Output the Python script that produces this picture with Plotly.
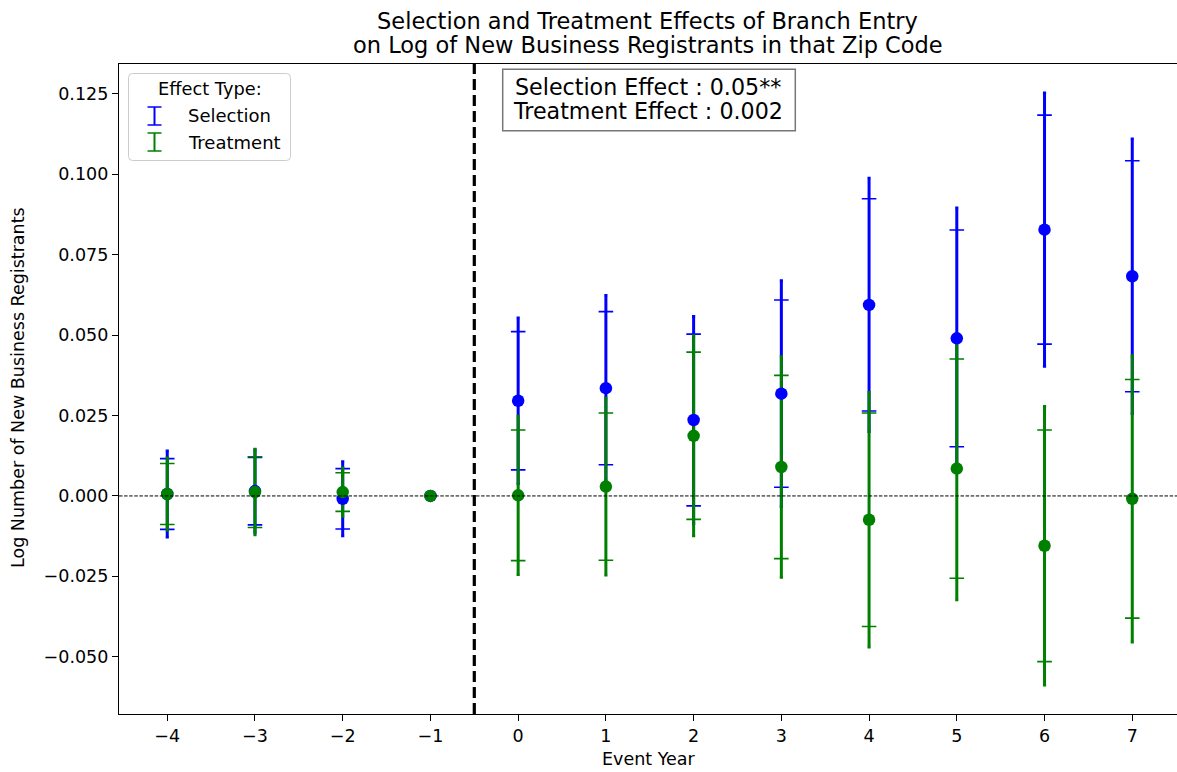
import numpy as np
import plotly.graph_objects as go

# ---------------- data ----------------
years = [-4, -3, -2, -1, 0, 1, 2, 3, 4, 5, 6, 7]

sel_coef = [0.0006, 0.0015, -0.0009, 0.0, 0.0296, 0.0335, 0.0236, 0.0318, 0.0594, 0.0490, 0.0828, 0.0683]
sel_ci95 = [0.0134, 0.0128, 0.0115, 0.0, 0.0257, 0.0288, 0.0322, 0.0351, 0.0394, 0.0405, 0.0425, 0.0427]
sel_ci90 = [0.0110, 0.0105, 0.0094, 0.0, 0.0215, 0.0238, 0.0267, 0.0291, 0.0330, 0.0337, 0.0356, 0.0359]

trt_coef = [0.0006, 0.0012, 0.0012, 0.0, 0.0002, 0.0029, 0.0187, 0.0090, -0.0074, 0.0085, -0.0155, -0.0009]
trt_ci95 = [0.0112, 0.0133, 0.0075, 0.0, 0.0246, 0.0275, 0.0311, 0.0343, 0.0396, 0.0408, 0.0433, 0.0445]
trt_ci90 = [0.0095, 0.0110, 0.0060, 0.0, 0.0203, 0.0229, 0.0260, 0.0285, 0.0332, 0.0341, 0.0360, 0.0371]

series_names = ["Selection", "Treatment"]
series_colors = ["#0000ff", "#008000"]

title_lines = ["Selection and Treatment Effects of Branch Entry",
               "on Log of New Business Registrants in that Zip Code"]
box_lines = ["Selection Effect : 0.05**", "Treatment Effect : 0.002"]
x_title = "Event Year"
y_title = "Log Number of New Business Registrants"
legend_title = "Effect Type:"
cutoff_x = -0.5

# ---------------- geometry helpers ----------------
W, H = 1177, 772
L, R, T, B = 119, 0, 64, 58
PW, PH = W - L - R, H - T - B


def px(x):
    return (x - L) / PW


def py(y):
    return (H - B - y) / PH


FONT = "DejaVu Sans"
fig = go.Figure()

series = [(sel_coef, sel_ci95, sel_ci90), (trt_coef, trt_ci95, trt_ci90)]
x_arr = np.array(years, dtype=float)

# error bars first (all), markers afterwards (drawn on top, like matplotlib)
for (coef, c95, c90), color in zip(series, series_colors):
    coef = np.array(coef)
    for ci, thick, capw in [(np.array(c95), 3.0, 1.6), (np.array(c90), 1.6, 7.3)]:
        m = ci > 0
        fig.add_trace(go.Scatter(
            x=x_arr[m], y=coef[m], mode="markers",
            marker=dict(size=1, color="rgba(0,0,0,0)"),
            error_y=dict(type="data", array=ci[m], symmetric=True,
                         color=color, thickness=thick, width=capw),
            showlegend=False, hoverinfo="skip"))

for (coef, c95, c90), color, name in zip(series, series_colors, series_names):
    fig.add_trace(go.Scatter(
        x=years, y=coef, mode="markers", name=name,
        marker=dict(size=12.5, color=color, line=dict(width=0)),
        showlegend=False))

shapes = []
# zero reference line
shapes.append(dict(type="line", xref="paper", yref="y", x0=0, x1=1, y0=0, y1=0,
                   line=dict(color="black", width=1.0, dash="3.5px,1.6px"), layer="above"))
# vertical cutoff line
shapes.append(dict(type="line", xref="x", yref="paper", x0=cutoff_x, x1=cutoff_x, y0=0, y1=1,
                   line=dict(color="black", width=3.2, dash="11px,5px"), layer="above"))

# legend box (rounded)
lx0, lx1, ly0, ly1, r = 128.5, 290.5, 73.5, 160.5, 4
path = (f"M {px(lx0 + r)},{py(ly0)} L {px(lx1 - r)},{py(ly0)} "
        f"Q {px(lx1)},{py(ly0)} {px(lx1)},{py(ly0 + r)} L {px(lx1)},{py(ly1 - r)} "
        f"Q {px(lx1)},{py(ly1)} {px(lx1 - r)},{py(ly1)} L {px(lx0 + r)},{py(ly1)} "
        f"Q {px(lx0)},{py(ly1)} {px(lx0)},{py(ly1 - r)} L {px(lx0)},{py(ly0 + r)} "
        f"Q {px(lx0)},{py(ly0)} {px(lx0 + r)},{py(ly0)} Z")
shapes.append(dict(type="path", xref="paper", yref="paper", path=path,
                   line=dict(color="#cccccc", width=1), fillcolor="rgba(255,255,255,0.8)",
                   layer="above"))
# legend icons (error-bar glyphs)
icon_x = 154.5
for (ytop, ybot), color in zip([(107, 125), (133, 151)], series_colors):
    shapes.append(dict(type="line", xref="paper", yref="paper",
                       x0=px(icon_x), x1=px(icon_x), y0=py(ytop), y1=py(ybot),
                       line=dict(color=color, width=2), layer="above"))
    for yy in (ytop, ybot):
        shapes.append(dict(type="line", xref="paper", yref="paper",
                           x0=px(icon_x - 7), x1=px(icon_x + 7), y0=py(yy), y1=py(yy),
                           line=dict(color=color, width=1.5), layer="above"))

# stats box
shapes.append(dict(type="rect", xref="paper", yref="paper",
                   x0=px(502.7), x1=px(795.3), y0=py(130.7), y1=py(69.3),
                   line=dict(color="#777777", width=1.5), fillcolor="white", layer="above"))

annotations = []
# title lines
for txt, yc in zip(title_lines, [21, 45]):
    annotations.append(dict(text=txt, xref="paper", yref="paper", x=px(647.5), y=py(yc),
                            xanchor="center", yanchor="middle", showarrow=False,
                            font=dict(family=FONT, size=22.5, color="black")))
# stats box text
for txt, yc in zip(box_lines, [86.5, 110.5]):
    annotations.append(dict(text=txt, xref="paper", yref="paper", x=px(648), y=py(yc),
                            xanchor="center", yanchor="middle", showarrow=False,
                            font=dict(family=FONT, size=22.2, color="black")))
# legend texts
annotations.append(dict(text=legend_title, xref="paper", yref="paper", x=px(209.5), y=py(89),
                        xanchor="center", yanchor="middle", showarrow=False,
                        font=dict(family=FONT, size=17.8, color="black")))
for txt, yc in zip(series_names, [116, 142]):
    annotations.append(dict(text=txt, xref="paper", yref="paper", x=px(186), y=py(yc),
                            xanchor="left", yanchor="middle", showarrow=False,
                            font=dict(family=FONT, size=18, color="black")))
# axis titles
annotations.append(dict(text=x_title, xref="paper", yref="paper", x=px(648.5), y=py(759),
                        xanchor="center", yanchor="middle", showarrow=False,
                        font=dict(family=FONT, size=17.5, color="black")))
annotations.append(dict(text=y_title, xref="paper", yref="paper", x=px(18), y=py(388),
                        xanchor="center", yanchor="middle", showarrow=False, textangle=-90,
                        font=dict(family=FONT, size=17.5, color="black")))

fig.update_layout(
    width=W, height=H,
    margin=dict(l=L, r=R, t=T, b=B, pad=0),
    paper_bgcolor="white", plot_bgcolor="white",
    font=dict(family=FONT, size=17.5, color="black"),
    showlegend=False,
    shapes=shapes, annotations=annotations,
    xaxis=dict(range=[-4.55, 7.51], tickmode="array", tickvals=years,
               ticktext=[str(v).replace("-", "\u2212") for v in years],
               showgrid=False, zeroline=False, showline=True, linecolor="black",
               linewidth=1.3, mirror=True, ticks="outside", ticklen=6, tickwidth=1.3,
               tickcolor="black", tickfont=dict(family=FONT, size=17.5, color="black")),
    yaxis=dict(range=[-0.0678, 0.1343], tickmode="array",
               tickvals=[-0.05, -0.025, 0.0, 0.025, 0.05, 0.075, 0.1, 0.125],
               tickformat=".3f",
               showgrid=False, zeroline=False, showline=True, linecolor="black",
               linewidth=1.3, mirror=False, ticks="outside", ticklen=6, tickwidth=1.3,
               tickcolor="black", tickfont=dict(family=FONT, size=17.5, color="black")),
)

fig.write_html(
    "out.html",
    config={"displayModeBar": False},
    post_script=("document.documentElement.style.margin='0';"
                 "document.body.style.margin='0';document.body.style.padding='0';"
                 "document.documentElement.style.overflow='hidden';"
                 "document.body.style.overflow='hidden';"),
)
